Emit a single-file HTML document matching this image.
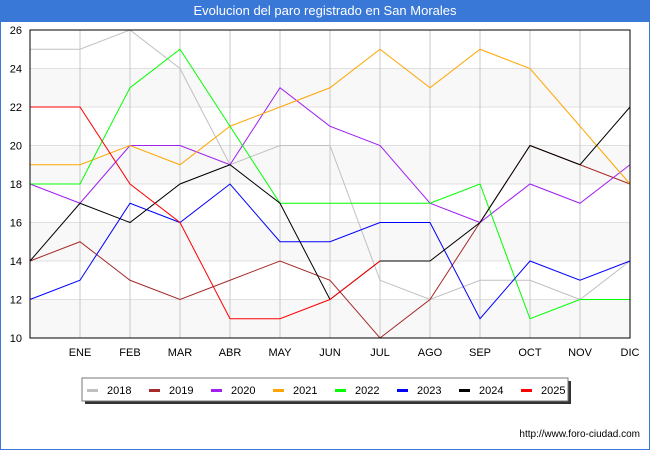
<!DOCTYPE html>
<html><head><meta charset="utf-8"><style>
body{margin:0;width:650px;height:450px;background:#fff;font-family:"Liberation Sans","DejaVu Sans",sans-serif;overflow:hidden;position:relative}
#title{position:absolute;left:0;top:0;width:650px;height:22px;background:#3a78d8;color:#fff;font-size:13px;text-align:center;line-height:22px}
#frame{position:absolute;left:0;top:0;width:648px;height:448px;border:1px solid #3a78d8}
svg{position:absolute;left:0;top:0}
</style></head><body>
<div id="frame"></div>
<div id="title">Evolucion del paro registrado en San Morales</div>
<svg id="c" width="650" height="450"></svg>
<script>
const months=["","ENE","FEB","MAR","ABR","MAY","JUN","JUL","AGO","SEP","OCT","NOV","DIC"];
const yTicks=[10,12,14,16,18,20,22,24,26];
const years=["2018","2019","2020","2021","2022","2023","2024","2025"];
const colors=["#c0c0c0","#a52a2a","#a020f0","#ffa500","#00ff00","#0000ff","#000000","#ff0000"];
const s2018=[25,25,26,24,19,20,20,13,12,13,13,12,14];
const s2019=[14,15,13,12,13,14,13,10,12,16,20,19,18];
const s2020=[18,17,20,20,19,23,21,20,17,16,18,17,19];
const s2021=[19,19,20,19,21,22,23,25,23,25,24,21,18];
const s2022=[18,18,23,25,21,17,17,17,17,18,11,12,12];
const s2023=[12,13,17,16,18,15,15,16,16,11,14,13,14];
const s2024=[14,17,16,18,19,17,12,14,14,16,20,19,22];
const s2025=[22,22,18,16,11,11,12,14];
const series=[s2018,s2019,s2020,s2021,s2022,s2023,s2024,s2025];
const L=30,R=630,T=30,B=338,ymin=10,ymax=26;
const xs=i=>L+i*(R-L)/(months.length-1);
const ys=v=>B-(v-ymin)*(B-T)/(ymax-ymin);
const svg=document.getElementById('c');const NS="http://www.w3.org/2000/svg";
function mk(t,a,p){const e=document.createElementNS(NS,t);for(const k in a)e.setAttribute(k,a[k]);(p||svg).appendChild(e);return e;}
for(let i=0;i<yTicks.length-1;i++){if(i%2==0){const r=mk('rect',{x:L,y:ys(yTicks[i+1]),width:R-L,height:ys(yTicks[i])-ys(yTicks[i+1]),fill:'#f8f8f8'});

}}
yTicks.forEach(v=>{const l=mk('line',{x1:L,x2:R,y1:ys(v),y2:ys(v),stroke:'#e0e0e0'});


const t=mk('text',{x:L-8,y:ys(v)+4,'text-anchor':'end','font-size':11,fill:'#000'});t.textContent=v;

});
months.forEach((m,i)=>{const l=mk('line',{x1:xs(i),x2:xs(i),y1:T,y2:B,stroke:'#c8c8c8'});


if(m){const t=mk('text',{x:xs(i),y:B+18,'text-anchor':'middle','font-size':11,fill:'#000'});t.textContent=m;

}});
series.forEach((s,k)=>{const p=mk('polyline',{points:s.map((v,i)=>xs(i)+','+ys(v)).join(' '),fill:'none',stroke:colors[k],'stroke-width':1});

});
const ax=mk('rect',{x:L,y:T,width:R-L,height:B-T,fill:'none',stroke:'#000'});


const g=mk('g',{});


mk('rect',{x:85,y:381,width:486,height:23,fill:'#333'},g);
mk('rect',{x:82,y:378,width:486,height:23,fill:'#fff',stroke:'#777'},g);
years.forEach((y,k)=>{const x=87+k*62;
const sw=mk('rect',{x:x,y:389,width:11,height:3,fill:colors[k]},g);


const t=mk('text',{x:x+20,y:394,'font-size':11,fill:'#000'},g);t.textContent=y;

});
const u=mk('text',{x:640,y:437,'text-anchor':'end','font-size':10,fill:'#000'});u.textContent='http://www.foro-ciudad.com';


</script>
</body></html>
